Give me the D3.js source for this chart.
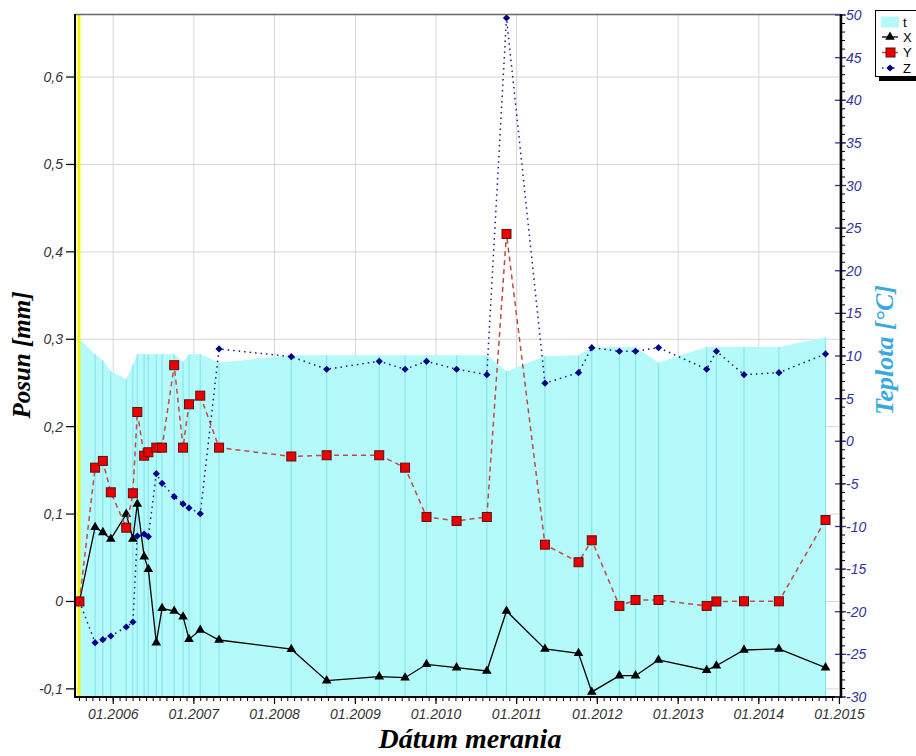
<!DOCTYPE html>
<html><head><meta charset="utf-8">
<script src="https://cdn.jsdelivr.net/npm/d3@7"></script>
<style>html,body{margin:0;padding:0;background:#fff;overflow:hidden;}svg{display:block;}</style>
</head><body>
<svg id="chart" width="916" height="756"></svg>
<script>
// ---- data ----
const dates = ["2005-08-01","2005-10-11","2005-11-15","2005-12-21","2006-03-01","2006-03-31","2006-04-20","2006-05-21","2006-06-09","2006-07-15","2006-08-10","2006-10-04","2006-11-13","2006-12-10","2007-01-30","2007-04-25","2008-03-17","2008-08-24","2009-04-19","2009-08-14","2009-11-19","2010-04-04","2010-08-19","2010-11-16","2011-05-09","2011-10-08","2011-12-07","2012-04-10","2012-06-22","2012-10-04","2013-05-10","2013-06-23","2013-10-26","2014-04-02","2014-10-30"];
const seriesX = [0,0.085,0.079,0.0715,0.100,0.0715,0.1116,0.0513,0.0368,-0.0471,-0.0078,-0.0109,-0.0174,-0.0432,-0.0326,-0.0441,-0.0546,-0.0906,-0.0860,-0.0872,-0.0719,-0.0757,-0.0795,-0.0109,-0.0543,-0.0593,-0.1035,-0.0849,-0.0849,-0.0669,-0.0787,-0.0735,-0.0555,-0.0543,-0.0757];
const seriesY = [0,0.1531,0.1608,0.1249,0.0844,0.1238,0.2168,0.1668,0.1707,0.176,0.176,0.2703,0.176,0.2256,0.2355,0.176,0.1659,0.1673,0.1673,0.1531,0.0967,0.0921,0.0967,0.4205,0.065,0.0449,0.070,-0.0051,0.0017,0.0017,-0.0051,0,0.0002,0.0002,0.0932];
const seriesZ = [0,-0.0471,-0.0437,-0.0395,-0.0292,-0.0235,0.0749,0.0772,0.0741,0.1462,0.1352,0.1199,0.1116,0.107,0.1005,0.2889,0.2801,0.2657,0.2748,0.2657,0.2748,0.2657,0.2595,0.6676,0.2497,0.2618,0.2904,0.2863,0.2863,0.2904,0.2657,0.2863,0.2595,0.2618,0.2832];
const seriesT = [12,10.2,9.5,8.2,7.3,9.0,10.2,10.2,10.2,10.2,10.2,10.2,9.3,10.2,10.2,9.2,10.1,10.1,10.1,10.1,10.1,10.1,10.1,8.2,10.0,10.1,11.0,11.05,11.05,9.25,11.05,11.05,11.05,11.05,12.2];
const leftTicks = [-0.1,0,0.1,0.2,0.3,0.4,0.5,0.6];
const rightTicks = [-30,-25,-20,-15,-10,-5,0,5,10,15,20,25,30,35,40,45,50];
const legendLabels = ["t","X","Y","Z"];
const titleLeft = "Posun [mm]", titleRight = "Teplota [°C]", titleBottom = "Dátum merania";

// ---- layout ----
const L = 75, R = 841, T = 15, B = 697;
const parse = d3.utcParse("%Y-%m-%d");
const D = dates.map(parse);
const x = d3.scaleUtc().domain([parse("2005-07-12"), parse("2015-01-08")]).range([L, R]);
const yL = d3.scaleLinear().domain([-0.1093, 0.671]).range([B, T]);
const yR = d3.scaleLinear().domain([-30, 50]).range([B, T]);
const svg = d3.select("#chart");
const sans = "'Liberation Sans', Arial, sans-serif";
const serif = "'Liberation Serif', 'Times New Roman', serif";
const triPath = d3.symbol(d3.symbolTriangle, 40)();
const diaPath = d3.symbol(d3.symbolSquare, 26)();

// grid
const years = d3.utcYear.range(parse("2006-01-01"), parse("2015-01-02"));
svg.append("g").selectAll("line").data(years).join("line")
  .attr("x1", d => x(d)).attr("x2", d => x(d)).attr("y1", T).attr("y2", B)
  .attr("stroke", "#d6d6d6").attr("stroke-width", 1);
svg.append("g").selectAll("line").data(leftTicks).join("line")
  .attr("x1", L).attr("x2", R).attr("y1", d => yL(d)).attr("y2", d => yL(d))
  .attr("stroke", "#d6d6d6").attr("stroke-width", 1);

// area t
const area = d3.area().x((d, i) => x(D[i])).y0(B).y1(d => yR(d));
svg.append("path").datum(seriesT).attr("d", area).attr("fill", "#b4fafa");
svg.append("g").selectAll("line").data(seriesT).join("line")
  .attr("x1", (d, i) => x(D[i])).attr("x2", (d, i) => x(D[i]))
  .attr("y1", d => yR(d)).attr("y2", B)
  .attr("stroke", "#8ae6ec").attr("stroke-width", 1.2);

// yellow line at first date
svg.append("line").attr("x1", x(D[0]) - 0.5).attr("x2", x(D[0]) - 0.5).attr("y1", T).attr("y2", B)
  .attr("stroke", "#f5f500").attr("stroke-width", 3);

// series
const lineGen = arr => d3.line().x((d, i) => x(D[i])).y(d => yL(d))(arr);
svg.append("path").attr("d", lineGen(seriesX)).attr("fill", "none").attr("stroke", "#000").attr("stroke-width", 1.3);
svg.append("g").selectAll("path").data(seriesX).join("path")
  .attr("d", triPath)
  .attr("transform", (d, i) => `translate(${x(D[i])},${yL(d)})`).attr("fill", "#000");

svg.append("path").attr("d", lineGen(seriesY)).attr("fill", "none").attr("stroke", "#c04a44").attr("stroke-width", 1.5).attr("stroke-dasharray", "5,4");
svg.append("g").selectAll("rect").data(seriesY).join("rect")
  .attr("x", (d, i) => x(D[i]) - 4.5).attr("y", d => yL(d) - 4.5).attr("width", 9).attr("height", 9)
  .attr("fill", "#ee0000").attr("stroke", "#5a1010").attr("stroke-width", 1);

svg.append("path").attr("d", lineGen(seriesZ)).attr("fill", "none").attr("stroke", "#1a1a80").attr("stroke-width", 1.5).attr("stroke-dasharray", "1.5,4");
svg.append("g").selectAll("path").data(seriesZ.slice(1)).join("path")
  .attr("d", diaPath)
  .attr("transform", (d, i) => `translate(${x(D[i + 1])},${yL(d)}) rotate(45)`).attr("fill", "#00008a");

// top border
svg.append("line").attr("x1", L).attr("x2", R).attr("y1", T - 0.5).attr("y2", T - 0.5).attr("stroke", "#666").attr("stroke-width", 1.5);

// bottom axis
const months = d3.utcMonth.range(parse("2005-08-01"), parse("2015-01-08"));
svg.append("g").selectAll("line").data(months).join("line")
  .attr("x1", d => x(d)).attr("x2", d => x(d)).attr("y1", B).attr("y2", B + 4)
  .attr("stroke", "#000").attr("stroke-width", 1);
svg.append("g").selectAll("line").data(years).join("line")
  .attr("x1", d => x(d)).attr("x2", d => x(d)).attr("y1", B).attr("y2", B + 7)
  .attr("stroke", "#000").attr("stroke-width", 1.2);
svg.append("g").selectAll("text").data(years).join("text")
  .attr("x", d => x(d)).attr("y", B + 22).attr("text-anchor", "middle")
  .attr("font-family", sans).attr("font-style", "italic").attr("font-size", 14).attr("fill", "#333")
  .text(d3.utcFormat("%m.%Y"));
svg.append("line").attr("x1", L).attr("x2", R).attr("y1", B).attr("y2", B).attr("stroke", "#000").attr("stroke-width", 2);

// left axis
svg.append("g").selectAll("line").data(leftTicks).join("line")
  .attr("x1", L - 9).attr("x2", L).attr("y1", d => yL(d)).attr("y2", d => yL(d))
  .attr("stroke", "#000").attr("stroke-width", 1.2);
svg.append("g").selectAll("text").data(leftTicks).join("text")
  .attr("x", L - 12).attr("y", d => yL(d) + 5).attr("text-anchor", "end")
  .attr("font-family", sans).attr("font-style", "italic").attr("font-size", 14).attr("fill", "#333")
  .text(d => d === 0 ? "0" : String(d).replace(".", ","));
svg.append("line").attr("x1", L).attr("x2", L).attr("y1", T - 1).attr("y2", B + 1).attr("stroke", "#000").attr("stroke-width", 2);

// right axis
const minorR = d3.range(-30, 51, 1);
svg.append("g").selectAll("line").data(minorR).join("line")
  .attr("x1", R).attr("x2", R + 4).attr("y1", d => yR(d)).attr("y2", d => yR(d))
  .attr("stroke", "#000").attr("stroke-width", 1);
svg.append("g").selectAll("line").data(rightTicks).join("line")
  .attr("x1", R - 6).attr("x2", R + 5).attr("y1", d => yR(d)).attr("y2", d => yR(d))
  .attr("stroke", "#333399").attr("stroke-width", 1.3);
svg.append("line").attr("x1", R).attr("x2", R).attr("y1", T - 1).attr("y2", B + 1).attr("stroke", "#000").attr("stroke-width", 2.5);
svg.append("g").selectAll("text").data(rightTicks).join("text")
  .attr("x", R + 5).attr("y", d => yR(d) + 5).attr("text-anchor", "start")
  .attr("font-family", sans).attr("font-style", "italic").attr("font-size", 14).attr("fill", "#33339a")
  .text(d => String(d));

// titles
svg.append("text").attr("transform", `translate(30,355) rotate(-90)`).attr("text-anchor", "middle")
  .attr("font-family", serif).attr("font-weight", "bold").attr("font-style", "italic").attr("font-size", 25).attr("fill", "#000")
  .text(titleLeft);
svg.append("text").attr("transform", `translate(893,350) rotate(-90)`).attr("text-anchor", "middle")
  .attr("font-family", serif).attr("font-weight", "bold").attr("font-style", "italic").attr("font-size", 26).attr("fill", "#3aaade")
  .text(titleRight);
svg.append("text").attr("x", 470).attr("y", 748).attr("text-anchor", "middle")
  .attr("font-family", serif).attr("font-weight", "bold").attr("font-style", "italic").attr("font-size", 28).attr("fill", "#000")
  .text(titleBottom);

// legend
const lg = svg.append("g");
lg.append("rect").attr("x", 879).attr("y", 14).attr("width", 50).attr("height", 67).attr("fill", "#000");
lg.append("rect").attr("x", 875.5).attr("y", 10.5).attr("width", 50).attr("height", 66).attr("fill", "#fff").attr("stroke", "#000").attr("stroke-width", 1);
const ly = [22, 37, 52.5, 68];
lg.append("rect").attr("x", 881).attr("y", 16.5).attr("width", 18).attr("height", 11).attr("fill", "#b4fafa");
lg.append("line").attr("x1", 882).attr("x2", 898).attr("y1", ly[1]).attr("y2", ly[1]).attr("stroke", "#000").attr("stroke-width", 1.3);
lg.append("path").attr("d", triPath).attr("transform", `translate(890,${ly[1]})`).attr("fill", "#000");
lg.append("line").attr("x1", 882).attr("x2", 898).attr("y1", ly[2]).attr("y2", ly[2]).attr("stroke", "#c04a44").attr("stroke-width", 1.5);
lg.append("rect").attr("x", 886).attr("y", ly[2] - 4.5).attr("width", 9).attr("height", 9).attr("fill", "#ee0000").attr("stroke", "#5a1010");
lg.append("line").attr("x1", 882).attr("x2", 898).attr("y1", ly[3]).attr("y2", ly[3]).attr("stroke", "#1a1a80").attr("stroke-width", 1.5).attr("stroke-dasharray", "1.5,4");
lg.append("path").attr("d", diaPath).attr("transform", `translate(890,${ly[3]}) rotate(45)`).attr("fill", "#00008a");
lg.selectAll("text.lt").data(legendLabels).join("text").attr("class", "lt")
  .attr("x", 903).attr("y", (d, i) => ly[i] + 4.5)
  .attr("font-family", sans).attr("font-size", 13).attr("fill", "#000").text(d => d);
</script>
</body></html>
